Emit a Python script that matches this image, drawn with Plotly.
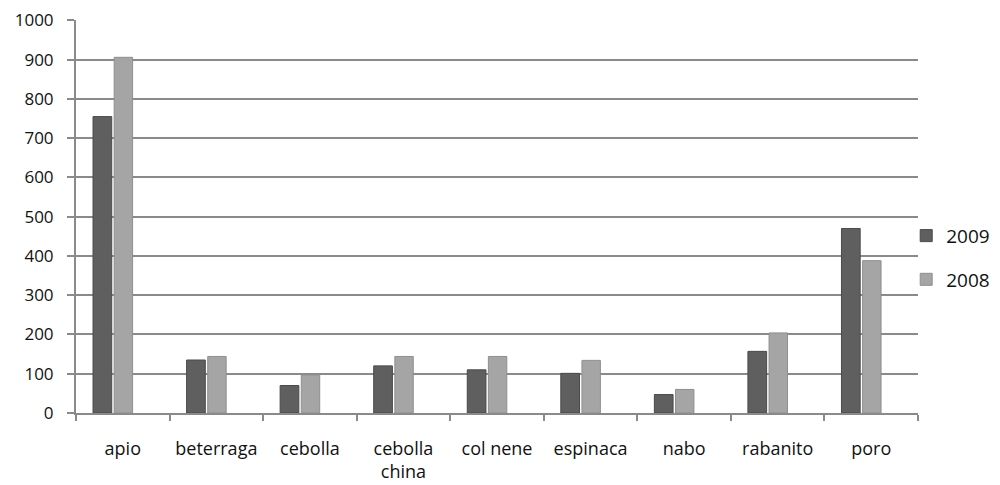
import plotly.graph_objects as go

categories = ["apio", "beterraga", "cebolla", "cebolla<br>china", "col nene",
              "espinaca", "nabo", "rabanito", "poro"]
values_2009 = [755, 135, 70, 120, 110, 101, 47, 157, 470]
values_2008 = [906, 144, 97, 144, 144, 134, 60, 204, 388]
y_ticks = [0, 100, 200, 300, 400, 500, 600, 700, 800, 900, 1000]

fig = go.Figure()
fig.add_trace(go.Bar(name="2009", x=categories, y=values_2009,
                     offset=-0.318, width=0.2,
                     marker=dict(color="#5f5f5f", line=dict(color="#4a4a4a", width=1)),
                     legendgroup="a"))
fig.add_trace(go.Bar(name="2008", x=categories, y=values_2008,
                     offset=-0.092, width=0.197,
                     marker=dict(color="#a5a5a5", line=dict(color="#8f8f8f", width=1)),
                     legendgroup="b"))

fig.update_layout(
    width=992, height=477,
    margin=dict(l=68, r=82, t=12, b=72, autoexpand=False),
    paper_bgcolor="white", plot_bgcolor="white",
    barmode="group",
    font=dict(family="Open Sans, sans-serif", color="#111111"),
    showlegend=True,
    legend=dict(x=0.986, xanchor="left", y=0.395, yanchor="middle",
                font=dict(size=19, color="#111111"),
                tracegroupgap=16, traceorder="grouped", itemwidth=30,
                bgcolor="rgba(0,0,0,0)"),
)
fig.update_xaxes(
    type="category", showgrid=False, automargin=False,
    showline=True, linecolor="#8a8a8a", linewidth=2,
    ticks="outside", tickson="boundaries", ticklen=6, tickcolor="#8a8a8a", tickwidth=1.5,
    tickfont=dict(size=18), ticklabelstandoff=18,
)
fig.update_yaxes(
    range=[0, 1001], tickvals=y_ticks, ticktext=[str(v) for v in y_ticks],
    showgrid=True, gridcolor="#8a8a8a", gridwidth=2, automargin=False,
    ticklabeloverflow="allow",
    showline=True, linecolor="#8a8a8a", linewidth=2,
    ticks="outside", ticklen=7, tickcolor="#8a8a8a", tickwidth=1.5,
    tickfont=dict(size=17), ticklabelstandoff=10, zeroline=False,
)

fig.write_html("out.html")
